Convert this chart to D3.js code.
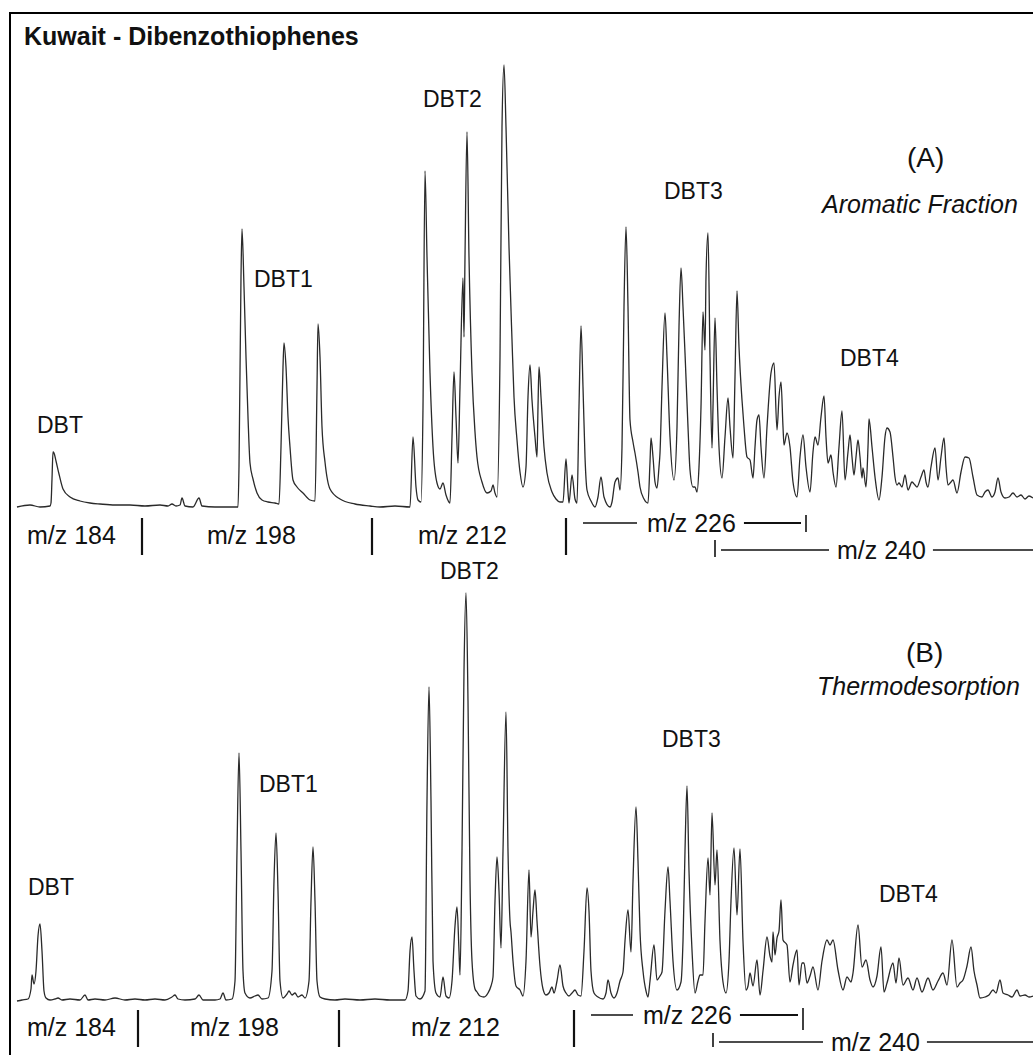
<!DOCTYPE html>
<html>
<head>
<meta charset="utf-8">
<script src="https://cdn.jsdelivr.net/npm/d3@7"></script>
<style>
  html, body { margin: 0; padding: 0; background: #fff; }
  svg { display: block; }
  text { font-family: "Liberation Sans", Arial, Helvetica, sans-serif; fill: #111; }
</style>
</head>
<body>
<svg id="chart" width="1033" height="1055"></svg>
<script>
// ---------------------------------------------------------------
// Mass chromatograms of dibenzothiophenes, Kuwait crude.
// Each trace is a list of [scan, relative abundance] vertices.
// ---------------------------------------------------------------

// (A) Aromatic fraction
const aromaticTrace = [
  [0,0],[13,2],[23,0],[33,1],[34,4],[35,28],[36,55],[37,54],[39,46],[42,33],[46,18],[53,10],
  [63,6],[73,4],[83,3],[98,2],[113,2],[128,1],[143,2],[151,1],[155,3],[159,1],[163,2],[165,9],
  [168,1],[176,0],[182,9],[185,1],[198,0],[221,0],[222,40],[224,230],[225,278],[227,220],
  [229,150],[231,90],[233,44],[236,28],[240,14],[245,7],[251,5],[258,4],[262,3],[264,60],
  [266,140],[267,164],[269,140],[271,90],[273,60],[276,27],[280,20],[286,14],[293,7],[298,6],
  [300,120],[301,183],[303,150],[305,80],[308,45],[313,18],[323,8],[338,3],[353,1],[363,0],
  [378,1],[393,0],[396,70],[399,20],[401,7],[404,5],[406,100],[408,336],[410,250],[413,134],
  [416,60],[420,24],[423,18],[426,24],[429,12],[433,4],[435,70],[437,135],[439,90],[441,44],
  [443,120],[446,229],[447,170],[448,250],[450,375],[452,250],[455,134],[458,75],[460,50],
  [465,25],[470,14],[474,16],[476,22],[478,14],[480,10],[483,150],[485,380],[487,442],
  [489,380],[492,260],[495,167],[497,110],[500,67],[503,35],[506,20],[509,40],[511,110],
  [513,142],[515,107],[518,70],[520,50],[521,100],[522,140],[524,110],[527,60],[530,34],
  [535,15],[539,8],[543,5],[546,5],[549,48],[551,15],[552,4],[555,32],[558,8],[560,4],
  [562,100],[564,181],[566,120],[568,50],[570,17],[574,6],[578,0],[581,10],[584,30],[587,10],
  [593,0],[595,5],[598,25],[601,29],[603,17],[605,60],[607,200],[609,280],[611,200],[613,87],
  [616,65],[618,54],[621,35],[623,20],[627,8],[631,4],[633,45],[634,69],[636,50],[638,25],
  [640,19],[642,40],[643,54],[645,120],[648,194],[650,150],[653,70],[657,27],[660,80],
  [662,180],[664,239],[666,200],[668,154],[671,80],[673,37],[676,20],[678,20],[680,15],
  [682,40],[684,100],[686,195],[688,157],[689,230],[691,274],[693,150],[695,59],[696,100],
  [698,189],[700,120],[702,60],[705,29],[708,70],[711,109],[713,80],[716,49],[718,130],
  [720,216],[722,160],[725,107],[727,80],[730,50],[733,47],[736,29],[738,60],[740,87],
  [742,92],[744,60],[747,29],[750,80],[754,134],[757,144],[760,77],[762,110],[764,125],
  [766,80],[767,62],[770,74],[773,60],[776,25],[780,10],[783,50],[786,72],[789,40],[793,15],
  [796,55],[798,70],[801,62],[804,90],[807,111],[809,70],[811,44],[814,52],[816,35],[819,20],
  [822,60],[825,96],[828,27],[831,55],[833,72],[835,50],[837,32],[839,50],[841,67],[843,50],
  [845,29],[846,39],[849,20],[851,60],[852,88],[855,60],[858,30],[862,7],[865,30],[868,70],
  [870,79],[873,75],[876,50],[878,30],[880,22],[882,24],[885,20],[888,32],[891,17],[895,25],
  [898,22],[900,20],[904,30],[907,37],[909,25],[911,20],[914,40],[918,59],[921,27],[924,50],
  [927,69],[929,40],[931,22],[934,25],[936,27],[940,14],[944,35],[948,50],[952,49],[956,30],
  [960,12],[965,10],[968,15],[971,17],[975,10],[978,15],[981,29],[984,15],[988,9],[992,10],
  [996,14],[1000,10],[1004,12],[1008,8],[1012,11],[1016,9]
];

// (B) Thermodesorption
const thermoTrace = [
  [0,0],[5,1],[11,2],[14,12],[15,26],[17,17],[19,30],[21,65],[23,77],[25,50],[27,10],[29,3],
  [33,1],[38,2],[41,3],[45,1],[53,2],[63,1],[68,6],[71,1],[78,2],[88,1],[98,3],[108,1],
  [118,2],[128,1],[138,2],[148,1],[155,4],[158,6],[161,2],[168,1],[178,2],[182,6],[186,1],
  [198,1],[203,2],[206,8],[209,1],[215,2],[218,20],[220,150],[222,248],[224,150],[226,30],
  [228,8],[233,3],[238,5],[241,6],[245,2],[251,3],[255,30],[257,120],[259,168],[261,110],
  [263,20],[266,3],[270,7],[272,10],[275,6],[278,8],[281,4],[285,6],[288,3],[292,20],
  [294,100],[296,154],[298,100],[300,20],[303,4],[308,2],[318,1],[328,2],[343,1],[358,2],
  [373,1],[388,1],[391,10],[393,50],[395,64],[397,30],[399,5],[403,2],[408,10],[410,200],
  [412,314],[414,200],[416,40],[419,8],[423,4],[426,24],[429,5],[432,3],[435,20],[438,75],
  [440,94],[442,50],[443,26],[445,150],[447,330],[449,408],[451,300],[453,120],[455,40],
  [458,12],[460,9],[463,5],[467,4],[471,8],[474,15],[476,24],[478,100],[480,144],[482,110],
  [484,53],[486,150],[489,289],[491,150],[493,80],[494,69],[496,40],[499,15],[503,11],
  [506,5],[509,40],[512,131],[514,64],[516,90],[518,111],[520,80],[523,35],[526,12],[529,6],
  [532,8],[535,14],[537,8],[540,20],[543,36],[546,15],[549,8],[552,5],[555,8],[558,11],
  [561,6],[564,5],[567,50],[570,113],[572,90],[574,30],[577,8],[581,4],[586,2],[589,8],
  [591,21],[594,8],[597,3],[600,8],[603,20],[606,29],[608,60],[611,91],[614,49],[616,120],
  [619,194],[621,140],[623,70],[626,30],[629,10],[631,4],[633,20],[637,56],[640,21],[643,25],
  [645,29],[648,90],[651,134],[653,100],[656,40],[660,11],[664,19],[666,60],[668,150],
  [670,215],[672,130],[675,51],[678,8],[681,20],[683,26],[686,26],[688,80],[691,143],
  [693,106],[695,188],[698,116],[700,151],[703,60],[706,19],[709,8],[712,40],[714,100],
  [717,153],[720,86],[723,152],[726,60],[729,11],[731,15],[733,28],[736,15],[740,41],[743,6],
  [746,30],[750,64],[753,45],[755,39],[756,69],[758,46],[760,63],[762,70],[764,101],[766,61],
  [770,56],[773,19],[776,36],[780,51],[782,16],[785,38],[787,38],[790,18],[793,25],[796,34],
  [801,11],[805,40],[810,61],[813,56],[816,61],[821,31],[826,11],[830,24],[834,19],[836,28],
  [841,76],[845,34],[849,41],[853,21],[856,14],[860,25],[864,54],[867,9],[870,18],[876,38],
  [879,18],[882,43],[886,16],[891,23],[896,11],[900,23],[905,9],[911,23],[916,11],[921,20],
  [926,28],[930,16],[935,61],[940,14],[943,18],[946,21],[950,35],[954,54],[957,30],[960,16],
  [963,3],[968,4],[972,6],[976,11],[979,8],[983,21],[986,8],[991,6],[995,4],[1000,11],
  [1003,5],[1008,6],[1012,4],[1016,5]
];

// Peak-group labels
const groupLabels = ["DBT", "DBT1", "DBT2", "DBT3", "DBT4"];
// Ion windows
const ionLabels = ["m/z 184", "m/z 198", "m/z 212", "m/z 226", "m/z 240"];
// Scans where the monitored ion changes (184|198, 198|212, 212|226), plus end of 226 window, start of 240 window
const aromaticSwitch = [125, 355, 549, 789, 698];
const thermoSwitch   = [121, 322, 557, 786, 696];

const titleText = "Kuwait - Dibenzothiophenes";

// ---------------------------------------------------------------
const svg = d3.select("#chart");
const ink = "#111";

// frame
svg.append("rect")
  .attr("x", 10).attr("y", 13)
  .attr("width", 1200).attr("height", 1200)
  .attr("fill", "none").attr("stroke", "#000").attr("stroke-width", 2);

svg.append("text")
  .attr("x", 24).attr("y", 45)
  .attr("font-size", 25).attr("font-weight", "bold")
  .text(titleText);

const x = d3.scaleLinear().domain([0, 1016]).range([17, 1033]);

const panels = [
  {
    trace: aromaticTrace, base: 507, top: 65, sw: aromaticSwitch,
    tag: "(A)", tagPos: [907, 167], sub: "Aromatic Fraction", subPos: [822, 213],
    labelPos: [[37, 433], [254, 287], [423, 107], [664, 199], [840, 366]],
    ionY: 544, tickY: [518, 555],
    win226: { y: 523, textX: 647, tick: [515, 532] },
    win240: { y: 550, textX: 837, tick: [540, 557] },
    ionX: [27, 207, 418]
  },
  {
    trace: thermoTrace, base: 1001, top: 593, sw: thermoSwitch,
    tag: "(B)", tagPos: [906, 662], sub: "Thermodesorption", subPos: [817, 695],
    labelPos: [[28, 895], [259, 792], [440, 579], [662, 747], [879, 902]],
    ionY: 1036, tickY: [1010, 1047],
    win226: { y: 1015, textX: 643, tick: [1008, 1030] },
    win240: { y: 1042, textX: 831, tick: [1033, 1047] },
    ionX: [27, 190, 411]
  }
];

panels.forEach(p => {
  const y = d3.scaleLinear()
    .domain([0, d3.max(p.trace, d => d[1])])
    .range([p.base, p.top]);

  const line = d3.line()
    .x(d => x(d[0]))
    .y(d => y(d[1]))
    .curve(d3.curveMonotoneX);

  svg.append("path")
    .datum(p.trace)
    .attr("d", line)
    .attr("fill", "none")
    .attr("stroke", "#2a2a2a")
    .attr("stroke-width", 1.3)
    .attr("stroke-linejoin", "round");

  // peak-group labels
  groupLabels.forEach((t, i) => {
    svg.append("text")
      .attr("x", p.labelPos[i][0]).attr("y", p.labelPos[i][1])
      .attr("font-size", 23)
      .text(t);
  });

  svg.append("text")
    .attr("x", p.tagPos[0]).attr("y", p.tagPos[1])
    .attr("font-size", 28)
    .text(p.tag);

  svg.append("text")
    .attr("x", p.subPos[0]).attr("y", p.subPos[1])
    .attr("font-size", 25).attr("font-style", "italic")
    .text(p.sub);

  // ion windows: first three labels with full-height separators
  for (let i = 0; i < 3; i++) {
    svg.append("text")
      .attr("x", p.ionX[i]).attr("y", p.ionY)
      .attr("font-size", 25)
      .text(ionLabels[i]);
    svg.append("line")
      .attr("x1", x(p.sw[i])).attr("x2", x(p.sw[i]))
      .attr("y1", p.tickY[0]).attr("y2", p.tickY[1])
      .attr("stroke", ink).attr("stroke-width", 2.2);
  }

  // m/z 226 bracket
  const w226 = svg.append("text")
    .attr("x", p.win226.textX).attr("y", p.win226.y + 9)
    .attr("font-size", 25)
    .text(ionLabels[3]);
  const len226 = w226.node().getComputedTextLength();
  svg.append("line")
    .attr("x1", x(p.sw[2]) + 17).attr("x2", p.win226.textX - 10)
    .attr("y1", p.win226.y).attr("y2", p.win226.y)
    .attr("stroke", ink).attr("stroke-width", 1.5);
  svg.append("line")
    .attr("x1", p.win226.textX + len226 + 8).attr("x2", x(p.sw[3]) - 5)
    .attr("y1", p.win226.y).attr("y2", p.win226.y)
    .attr("stroke", ink).attr("stroke-width", 1.8);
  svg.append("line")
    .attr("x1", x(p.sw[3])).attr("x2", x(p.sw[3]))
    .attr("y1", p.win226.tick[0]).attr("y2", p.win226.tick[1])
    .attr("stroke", ink).attr("stroke-width", 1.6);

  // m/z 240 bracket
  const w240 = svg.append("text")
    .attr("x", p.win240.textX).attr("y", p.win240.y + 9)
    .attr("font-size", 25)
    .text(ionLabels[4]);
  const len240 = w240.node().getComputedTextLength();
  svg.append("line")
    .attr("x1", x(p.sw[4])).attr("x2", x(p.sw[4]))
    .attr("y1", p.win240.tick[0]).attr("y2", p.win240.tick[1])
    .attr("stroke", ink).attr("stroke-width", 1.6);
  svg.append("line")
    .attr("x1", x(p.sw[4]) + 6).attr("x2", p.win240.textX - 8)
    .attr("y1", p.win240.y).attr("y2", p.win240.y)
    .attr("stroke", ink).attr("stroke-width", 1.5);
  svg.append("line")
    .attr("x1", p.win240.textX + len240 + 7).attr("x2", 1033)
    .attr("y1", p.win240.y).attr("y2", p.win240.y)
    .attr("stroke", ink).attr("stroke-width", 1.5);
});
</script>
</body>
</html>
